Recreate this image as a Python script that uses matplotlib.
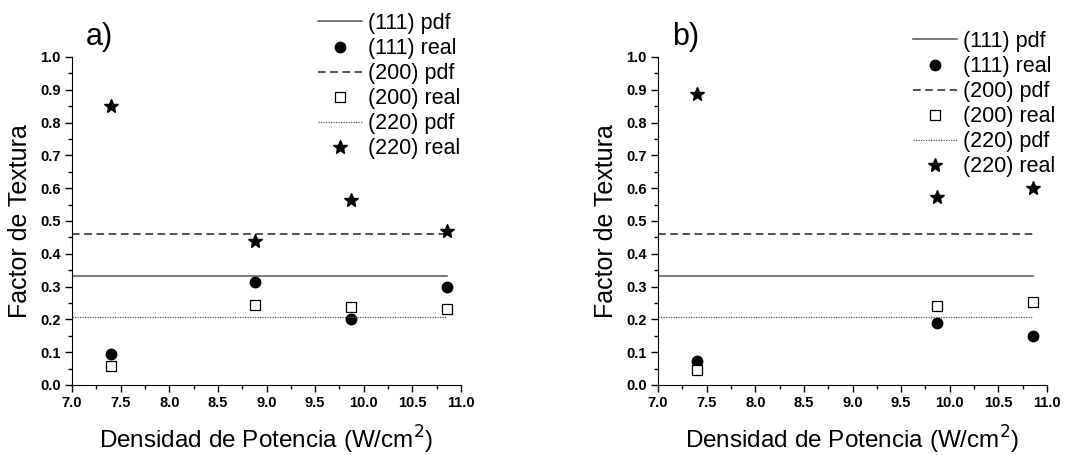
import numpy as np
import matplotlib.pyplot as plt
from matplotlib.ticker import MultipleLocator

plt.rcParams['font.family'] = ['Liberation Sans', 'DejaVu Sans']

# Panel a
x_a = [7.40, 8.88, 9.87, 10.86]
r111_a = [0.095, 0.315, 0.200, 0.298]
r200_a = [0.057, 0.245, 0.238, 0.233]
r220_a = [0.850, 0.440, 0.563, 0.470]

# Panel b
x_b = [7.40, 9.87, 10.86]
r111_b = [0.072, 0.188, 0.150]
r200_b = [0.045, 0.242, 0.252]
r220_b = [0.888, 0.572, 0.600]

# pdf reference values
pdf_x = [7.0, 10.86]
pdf111 = 0.332
pdf200 = 0.460
pdf220 = 0.208

W, H = 1079, 455
fig = plt.figure(figsize=(W / 100, H / 100), dpi=100)


def panel(left_px, xs, r111, r200, r220, tag, leg_xy):
    ax = fig.add_axes([left_px / W, (H - 385) / H, 389 / W, 328 / H])
    ax.plot(pdf_x, [pdf111] * 2, color='#555555', lw=1.1, label='(111) pdf')
    ax.plot(xs, r111, 'o', color='black', ms=7.5, label='(111) real')
    ax.plot(pdf_x, [pdf200] * 2, color='#222222', lw=1.1, ls=(0, (5, 3)), label='(200) pdf')
    ax.plot(xs, r200, 's', mfc='white', mec='black', mew=0.9, ms=6.5, label='(200) real')
    ax.plot(pdf_x, [pdf220] * 2, color='#555555', lw=0.9, ls=(0, (1, 1)), label='(220) pdf')
    ax.plot(xs, r220, '*', color='black', ms=10, label='(220) real')

    ax.set_xlim(7.0, 11.0)
    ax.set_ylim(0.0, 1.0)
    ax.xaxis.set_major_locator(MultipleLocator(0.5))
    ax.xaxis.set_minor_locator(MultipleLocator(0.25))
    ax.yaxis.set_major_locator(MultipleLocator(0.1))
    ax.yaxis.set_minor_locator(MultipleLocator(0.05))
    ax.xaxis.set_major_formatter(plt.FormatStrFormatter('%.1f'))
    ax.yaxis.set_major_formatter(plt.FormatStrFormatter('%.1f'))
    ax.spines['top'].set_visible(False)
    ax.spines['right'].set_visible(False)
    ax.tick_params(which='major', direction='out', length=5, width=1, labelsize=10.5, pad=3)
    ax.tick_params(which='minor', direction='out', length=3, width=1)
    for lab in ax.get_xticklabels() + ax.get_yticklabels():
        lab.set_fontweight('bold')
    ax.set_xlabel('Densidad de Potencia (W/cm$^2$)', fontsize=17.5, labelpad=10)
    ax.set_ylabel('Factor de Textura', fontsize=18, labelpad=6)
    ax.text(0.035, 1.015, tag, transform=ax.transAxes, fontsize=22, va='bottom')
    ax.legend(loc='upper left', bbox_to_anchor=(leg_xy[0] / W, 1 - leg_xy[1] / H),
              bbox_transform=fig.transFigure, frameon=False,
              fontsize=15.5, handlelength=2.05, handletextpad=0.28,
              labelspacing=0.19, borderaxespad=0, borderpad=0)
    return ax


panel(72, x_a, r111_a, r200_a, r220_a, 'a)', (318, 13))
panel(658, x_b, r111_b, r200_b, r220_b, 'b)', (913, 31))

fig.savefig('out.png', dpi=100)
